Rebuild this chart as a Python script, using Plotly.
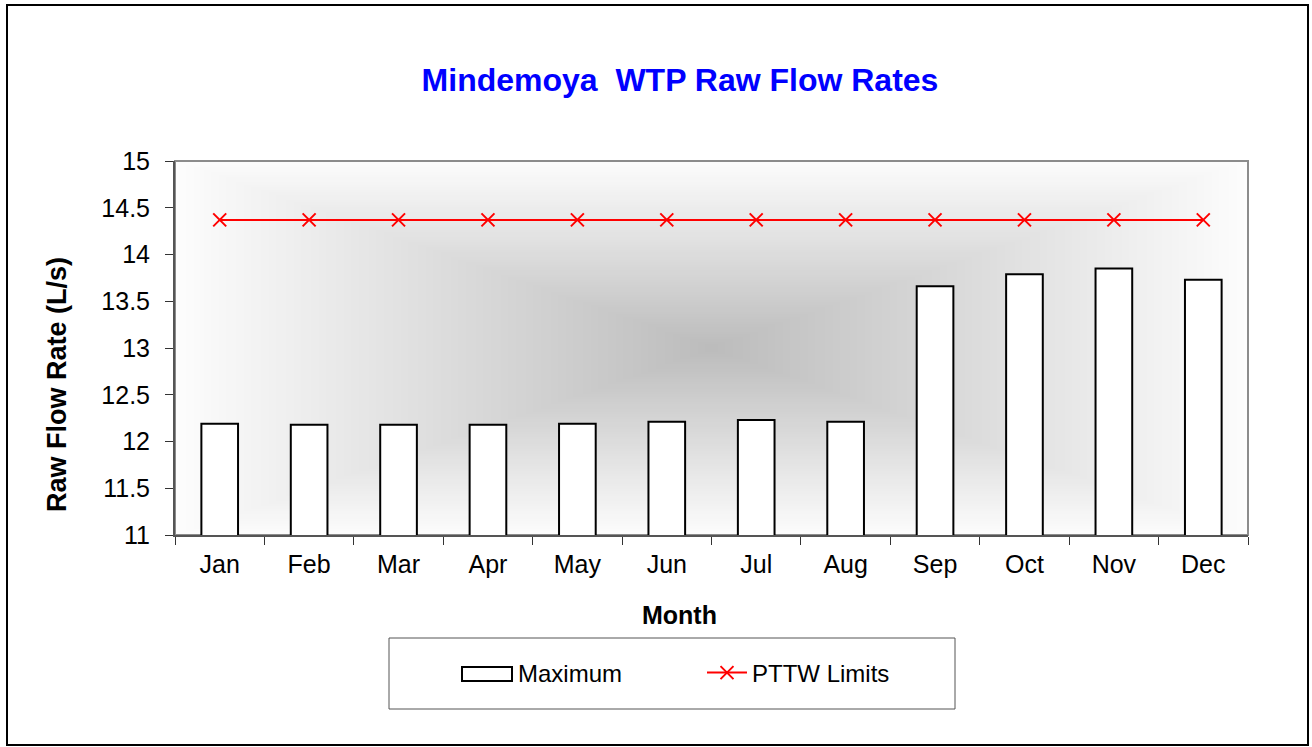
import base64, struct, zlib
import plotly.graph_objects as go

months = ["Jan", "Feb", "Mar", "Apr", "May", "Jun", "Jul", "Aug", "Sep", "Oct", "Nov", "Dec"]
maximum = [12.19, 12.18, 12.18, 12.18, 12.19, 12.21, 12.23, 12.21, 13.66, 13.79, 13.85, 13.73]
pttw = [14.37] * 12

FONT = "Arial, Liberation Sans, sans-serif"

# ---- background gradient (rectangular "from centre" fill) as PNG ----
def gradient_png(w, h, c_center=188, c_edge=253):
    rows = bytearray()
    for j in range(h):
        rows.append(0)
        v = abs((j + 0.5) - h / 2) / (h / 2)
        for i in range(w):
            u = abs((i + 0.5) - w / 2) / (w / 2)
            t = max(u, v)
            rows.append(int(round(c_center + (c_edge - c_center) * t)))
    def chunk(tag, data):
        c = struct.pack(">I", len(data)) + tag + data
        return c + struct.pack(">I", zlib.crc32(tag + data) & 0xffffffff)
    png = b"\x89PNG\r\n\x1a\n"
    png += chunk(b"IHDR", struct.pack(">IIBBBBB", w, h, 8, 0, 0, 0, 0))
    png += chunk(b"IDAT", zlib.compress(bytes(rows), 9))
    png += chunk(b"IEND", b"")
    return "data:image/png;base64," + base64.b64encode(png).decode()

bg = gradient_png(430, 150)

fig = go.Figure()
fig.add_trace(go.Bar(
    x=months, y=maximum, name="Maximum", showlegend=False,
    marker=dict(color="white", line=dict(color="black", width=2)),
    width=0.41,
))
# legend entry for the bars (wide rectangle key drawn as a shape below)
fig.add_trace(go.Scatter(
    x=[None], y=[None], name="Maximum", mode="lines",
    line=dict(color="rgba(0,0,0,0)", width=1), hoverinfo="skip",
))
fig.add_trace(go.Scatter(
    x=months, y=pttw, name="PTTW Limits", mode="lines+markers",
    line=dict(color="#ff0000", width=2),
    marker=dict(symbol="x-thin", size=13, line=dict(color="#ff0000", width=2), color="#ff0000"),
))

L, R, T, B = 175, 1248, 161, 535
W, H = R - L, B - T
def px_x(x): return (x - L) / W
def px_y(y): return (B - y) / H

fig.update_layout(
    width=1312, height=747,
    margin=dict(l=L, r=1312 - R, t=T, b=747 - B),
    paper_bgcolor="white", plot_bgcolor="rgba(0,0,0,0)",
    font=dict(family=FONT, size=25, color="black"),
    showlegend=True,
    title=dict(text="<b>Mindemoya\u00a0 WTP Raw Flow Rates</b>", x=680 / 1312, xref="container",
               xanchor="center", y=1 - 80 / 747, yref="container", yanchor="middle",
               font=dict(family=FONT, size=32, color="#0000ff")),
    xaxis=dict(
        type="category", tickson="boundaries", ticks="outside", ticklen=8, tickwidth=1,
        tickcolor="#333", showline=True, linecolor="#555", linewidth=2, showgrid=False,
        tickfont=dict(size=25), range=[-0.5, 11.5], ticklabelstandoff=6,
    ),
    yaxis=dict(
        range=[11, 15], dtick=0.5, ticks="outside", ticklen=8, tickwidth=1, tickcolor="#333",
        showline=True, linecolor="#555", linewidth=2, showgrid=False, zeroline=False,
        tickfont=dict(size=25), ticklabelstandoff=10,
    ),
    legend=dict(
        orientation="h", x=px_x(468), xanchor="left", y=px_y(673), yanchor="middle",
        font=dict(size=24), bgcolor="rgba(0,0,0,0)", entrywidth=179, itemwidth=40,
    ),
    annotations=[
        dict(text="<b>Month</b>", xref="paper", yref="paper", x=px_x(679), y=px_y(615),
             xanchor="center", yanchor="middle", showarrow=False, font=dict(size=25)),
        dict(text="<b>Raw Flow Rate (L/s)</b>", xref="paper", yref="paper", x=px_x(57),
             y=px_y(385), xanchor="center", yanchor="middle", showarrow=False,
             textangle=-90, font=dict(size=27)),
    ],
    images=[dict(source=bg, xref="paper", yref="paper", x=0, y=1, sizex=1, sizey=1,
                 sizing="stretch", xanchor="left", yanchor="top", layer="below")],
    shapes=[
        # plot area border (top/right grey)
        dict(type="rect", xref="paper", yref="paper", x0=0, x1=1, y0=0, y1=1,
             line=dict(color="#8c8c8c", width=2), layer="below"),
        # outer chart frame
        dict(type="rect", xref="paper", yref="paper", x0=px_x(7), x1=px_x(1308),
             y0=px_y(745), y1=px_y(5), line=dict(color="black", width=2)),
        # legend box
        dict(type="rect", xref="paper", yref="paper", x0=px_x(389), x1=px_x(955),
             y0=px_y(709), y1=px_y(638), line=dict(color="#555", width=1)),
        # legend key for bars
        dict(type="rect", xref="paper", yref="paper", x0=px_x(462), x1=px_x(512),
             y0=px_y(681), y1=px_y(667), fillcolor="white", line=dict(color="black", width=2)),
    ],
)

fig.write_html("out.html", config={"displayModeBar": False},
               post_script="document.body.style.margin='0';")
